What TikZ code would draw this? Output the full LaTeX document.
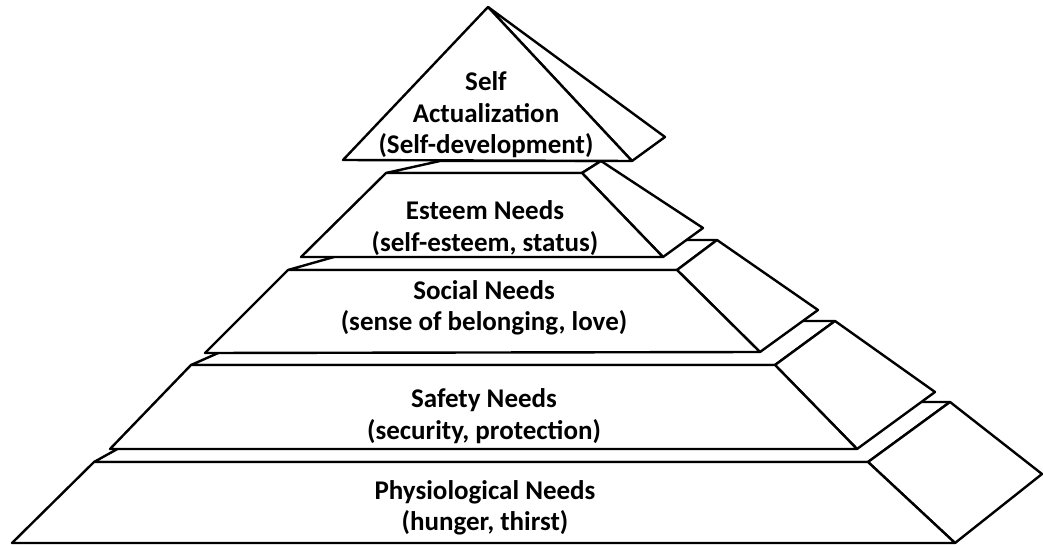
\documentclass[tikz,border=0pt]{standalone}
\usepackage{fontspec}
\setmainfont{Carlito}
\usepackage{tikz}

\begin{document}
\begin{tikzpicture}[x=1pt,y=-1pt,line join=round,
  slab/.style={draw,fill=white,line width=2.4pt},
  tier label/.style={align=center,font=\bfseries\fontsize{27}{31.5}\selectfont}]
  \useasboundingbox (0,0) rectangle (1043,545);

  % physiological
  \draw[slab] (94,462) -- (868,462) -- (950,402) -- (202,402) -- cycle;
  \draw[slab] (868,462) -- (950,402) -- (1042,474) -- (955,543) -- cycle;
  \draw[slab] (12,543) -- (955,543) -- (868,462) -- (94,462) -- cycle;

  % safety
  \draw[slab] (191,365) -- (775,365) -- (835,321) -- (291,321) -- cycle;
  \draw[slab] (775,365) -- (835,321) -- (935,392) -- (857,449) -- cycle;
  \draw[slab] (110,449) -- (857,449) -- (775,365) -- (191,365) -- cycle;

  % social
  \draw[slab] (288,270) -- (677,270) -- (717,240) -- (394,240) -- cycle;
  \draw[slab] (677,270) -- (717,240) -- (818,310) -- (760,352) -- cycle;
  \draw[slab] (205,353) -- (760,352) -- (677,270) -- (288,270) -- cycle;

  % esteem
  \draw[slab] (386,173) -- (582,173) -- (601,161) -- (440,161) -- cycle;
  \draw[slab] (582,173) -- (601,161) -- (703,228) -- (663,257) -- cycle;
  \draw[slab] (301,257) -- (663,257) -- (582,173) -- (386,173) -- cycle;

  % self actualization
  \draw[slab] (632,161) -- (665,137) -- (488,7) -- cycle;
  \draw[slab] (343,160) -- (632,161) -- (488,7) -- cycle;

  \node[tier label] (t1) at (486,115) {Self\\Actualization\\(Self-development)};
  \node[tier label] (t2) at (485,228) {Esteem Needs\\(self-esteem, status)};
  \node[tier label] (t3) at (484,308) {Social Needs\\(sense of belonging, love)};
  \node[tier label] (t4) at (484,416) {Safety Needs\\(security, protection)};
  \node[tier label] (t5) at (485,508) {Physiological Needs\\(hunger, thirst)};
\end{tikzpicture}
\end{document}
